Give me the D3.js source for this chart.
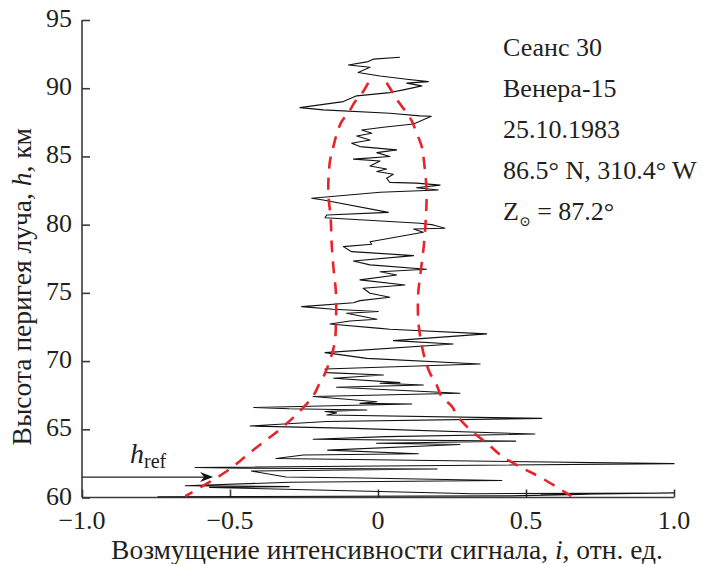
<!DOCTYPE html>
<html>
<head>
<meta charset="utf-8">
<script src="https://cdn.jsdelivr.net/npm/d3@7"></script>
<style>
  body { margin: 0; background: #fff; }
  .axis path, .axis line { stroke: #3a3a3a; stroke-width: 1.6; }
</style>
</head>
<body>
<svg id="chart"></svg>
<script>
// altitude of ray perigee, km (top -> bottom)
const heightKm = [
  92.27, 92.13, 91.95, 91.7, 91.54, 91.15, 90.9, 90.66, 90.48, 90.37, 90.17, 89.88, 89.68, 89.44,
  89.02, 88.58, 88.41, 88.17, 87.97, 87.95, 87.68, 87.38, 87.14, 86.94, 86.7, 86.5, 86.21, 85.97,
  85.72, 85.48, 85.28, 84.99, 84.8, 84.67, 84.3, 84.08, 83.89, 83.69, 83.4, 83.1, 83.04, 82.9,
  82.7, 82.54, 82.37, 81.93, 81.81, 80.9, 80.71, 80.51, 80.1, 79.98, 79.74, 79.68, 79.44, 78.75,
  78.56, 78.39, 78.02, 77.73, 77.34, 77.05, 76.73, 76.55, 76.31, 75.95, 75.58, 75.34, 74.97, 74.68,
  74.43, 74.28, 73.99, 73.8, 73.63, 73.5, 73.06, 72.94, 72.72, 72.4, 72.33, 71.99, 71.5, 71.25,
  70.62, 70.2, 69.79, 69.42, 69.15, 68.98, 68.74, 68.42, 68.37, 68.25, 68.08, 67.64, 67.4, 67.02,
  66.9, 66.85, 66.6, 66.5, 66.41, 66.3, 66.2, 66.05, 65.8, 65.57, 65.24, 65.07, 64.65, 64.46,
  64.27, 64.13, 63.98, 63.88, 63.47, 63.21, 63.12, 62.86, 62.48, 62.2, 62.15, 62.09, 61.94, 61.5,
  61.43, 61.25, 61.12, 60.86, 60.8, 60.74, 60.28, 60.33, 60.2, 60.25, 60.12, 60.05
]
// signal intensity perturbation, rel. units
const signal = [
  0.074, -0.016, -0.033, -0.10, -0.027, -0.067, 0.007, 0.097, 0.17, 0.097, 0.148, 0.086, 0.04, -0.072,
  -0.117, -0.264, -0.185, 0.04, 0.142, 0.18, 0.153, 0.12, 0.018, -0.055, -0.021, -0.072, -0.027, -0.089,
  -0.061, 0.063, -0.004, 0.04, -0.083, 0.007, -0.027, 0.029, -0.004, 0.052, 0.029, 0.04, 0.13, 0.21,
  0.13, 0.204, 0.007, -0.224, -0.185, 0.035, -0.173, -0.179, 0.142, 0.187, 0.226, 0.12, 0.153, -0.027,
  -0.021, -0.117, -0.089, 0.12, -0.083, -0.027, 0.164, 0.007, 0.063, -0.061, 0.091, -0.05, -0.027, 0.04,
  -0.061, -0.083, -0.258, -0.151, 0.001, -0.106, -0.004, -0.095, -0.162, 0.007, 0.04, 0.367, 0.052, 0.254,
  -0.179, -0.038, 0.345, -0.179, -0.173, 0.018, -0.15, 0.074, 0.007, 0.153, -0.14, 0.277, -0.219, -0.004,
  -0.061, 0.114, -0.42, -0.3, -0.038, -0.179, -0.14, -0.173, 0.553, -0.173, -0.432, -0.083, 0.53, 0.029,
  -0.219, 0.465, -0.005, 0.277, -0.17, 0.136, -0.252, -0.345, 1.0, -0.618, -0.45, 0.2, -0.428, -0.311,
  -0.052, 0.418, -0.299, -0.651, -0.3, -0.569, 0.324, 1.0, 0.55, 0.72, 0.45, -0.745
]

// dashed red envelope
const envLeftH = [90.4, 89.6, 89.0, 88.2, 87.55, 86.6, 85.7, 84.7, 82.4, 80.5, 78.4, 76.5, 75, 73, 71.4, 70.08, 69.1, 68.25, 67.44, 66.2, 64.95, 63.5, 61.94, 60.1]
const envLeftI = [-0.033, -0.055, -0.078, -0.1, -0.123, -0.14, -0.151, -0.162, -0.168, -0.16, -0.156, -0.149, -0.142, -0.142, -0.146, -0.162, -0.179, -0.2, -0.219, -0.27, -0.334, -0.42, -0.51, -0.651]
const envRightH = [90.4, 89.6, 89.0, 88.2, 87.6, 86.7, 85.7, 84.7, 82.5, 80.6, 78.5, 76.5, 75, 73, 71.5, 70.1, 69.1, 68.25, 67.4, 66.7, 65.9, 65.2, 64.65, 63.93, 63.04, 62.14, 61.5, 60.1]
const envRightI = [0.029, 0.052, 0.069, 0.097, 0.114, 0.131, 0.148, 0.155, 0.164, 0.162, 0.155, 0.144, 0.136, 0.136, 0.145, 0.159, 0.176, 0.198, 0.215, 0.249, 0.271, 0.30, 0.328, 0.371, 0.418, 0.489, 0.547, 0.653]

const hRef = 61.5
const hRefTip = -0.557

const yTicks = [60, 65, 70, 75, 80, 85, 90, 95]
const xTicks = [-1, -0.5, 0, 0.5, 1]
const xTickLabels = ['\u22121.0', '\u22120.5', '0', '0.5', '1.0']

const infoLines = ['Сеанс 30', 'Венера-15', '25.10.1983', '86.5° N, 310.4° W']
const zenithText = ['Z', '\u2299', ' = 87.2°']

const xTitle = ['Возмущение интенсивности сигнала, ', 'i', ', отн. ед.']
const yTitle = ['Высота перигея луча, ', 'h', ', км']

const serif = "'Liberation Serif', 'Times New Roman', Tinos, 'DejaVu Serif', serif"

class ProfilePlot {

    constructor(cfg) {
        this.config = {
            parentElement: cfg.parentElement,
            containerWidth: cfg.containerWidth || 705,
            containerHeight: cfg.containerHeight || 564,
            margin: cfg.margin || {top: 20, right: 31, bottom: 66.5, left: 82},
            fontSize: cfg.fontSize || 26,
            titleSize: cfg.titleSize || 27.5
        }
        this.initVis()
    }

    initVis() {
        let vis = this
        let c = vis.config

        vis.width = c.containerWidth - c.margin.left - c.margin.right
        vis.height = c.containerHeight - c.margin.top - c.margin.bottom

        vis.svgRoot = d3.select(c.parentElement)
            .attr('width', c.containerWidth)
            .attr('height', c.containerHeight)
            .attr('font-family', serif)
            .style('font-family', serif)

        vis.svg = vis.svgRoot.append('g')
            .attr('transform', `translate(${c.margin.left},${c.margin.top})`)

        vis.xScale = d3.scaleLinear().domain([-1, 1]).range([0, vis.width])
        vis.yScale = d3.scaleLinear().domain([60, 95]).range([vis.height, 0])

        // ticks point inward, like the paper figure
        vis.xAxis = d3.axisTop(vis.xScale).tickValues(xTicks).tickSize(8).tickFormat('')
        vis.yAxis = d3.axisRight(vis.yScale).tickValues(yTicks).tickSize(8).tickFormat('')

        vis.svg.append('g')
            .attr('class', 'axis x-axis')
            .attr('transform', `translate(0,${vis.height})`)
            .call(vis.xAxis)
            .call(g => g.select('.domain').attr('d', `M0,0H${vis.width}`))

        vis.svg.append('g')
            .attr('class', 'axis y-axis')
            .call(vis.yAxis)
            .call(g => g.select('.domain').attr('d', `M0,0V${vis.height}`))

        let txt = sel => sel.attr('font-family', serif).attr('fill', '#231f20')

        // tick labels
        vis.svg.append('g').selectAll('text')
            .data(xTicks)
            .join('text')
                .call(txt)
                .attr('x', d => vis.xScale(d))
                .attr('y', vis.height + 31)
                .attr('text-anchor', 'middle')
                .attr('font-size', c.fontSize)
                .text((d, i) => xTickLabels[i])

        vis.svg.append('g').selectAll('text')
            .data(yTicks)
            .join('text')
                .call(txt)
                .attr('x', -10)
                .attr('y', d => vis.yScale(d))
                .attr('dy', '0.27em')
                .attr('text-anchor', 'end')
                .attr('font-size', c.fontSize)
                .text(d => d)

        // axis titles
        let xt = vis.svg.append('text')
            .call(txt)
            .attr('x', vis.width / 2 + 9)
            .attr('y', vis.height + 61.5)
            .attr('text-anchor', 'middle')
            .attr('font-size', c.titleSize)
        xTitle.forEach((s, i) => xt.append('tspan').attr('font-style', i === 1 ? 'italic' : null).text(s))

        let yt = vis.svg.append('text')
            .call(txt)
            .attr('transform', `translate(${-c.margin.left + 31},${vis.height / 2 + 28}) rotate(-90)`)
            .attr('text-anchor', 'middle')
            .attr('font-size', c.titleSize)
        yTitle.forEach((s, i) => yt.append('tspan').attr('font-style', i === 1 ? 'italic' : null).text(s))

        // session info block
        let info = vis.svg.append('g').attr('transform', 'translate(421,0)')
        info.selectAll('text')
            .data(infoLines)
            .join('text')
                .call(txt)
                .attr('y', (d, i) => 36 + i * 41)
                .attr('font-size', c.fontSize)
                .text(d => d)

        let zt = info.append('text')
            .call(txt)
            .attr('y', 36 + 4 * 41)
            .attr('font-size', c.fontSize)
        zt.append('tspan').text(zenithText[0])
        zt.append('tspan').attr('font-size', 14).attr('dy', 6).text(zenithText[1])
        zt.append('tspan').attr('dy', -6).text(zenithText[2])

        vis.line = d3.line()
            .x(d => vis.xScale(d[0]))
            .y(d => vis.yScale(d[1]))

        vis.curve = d3.line()
            .x(d => vis.xScale(d[0]))
            .y(d => vis.yScale(d[1]))
            .curve(d3.curveCatmullRom)

        vis.renderVis()
    }

    renderVis() {
        let vis = this

        let trace = heightKm.map((h, i) => [signal[i], h])
        vis.svg.append('path')
            .datum(trace)
            .attr('fill', 'none')
            .attr('stroke', '#111')
            .attr('stroke-width', 1.1)
            .attr('stroke-linejoin', 'round')
            .attr('d', vis.line)

        let envs = [
            envLeftH.map((h, i) => [envLeftI[i], h]),
            envRightH.map((h, i) => [envRightI[i], h])
        ]
        vis.svg.selectAll('.env')
            .data(envs)
            .join('path')
                .attr('class', 'env')
                .attr('fill', 'none')
                .attr('stroke', '#e8242b')
                .attr('stroke-width', 2.6)
                .attr('stroke-dasharray', '12,9')
                .attr('d', vis.curve)

        // h_ref marker
        let yRef = vis.yScale(hRef)
        let xTip = vis.xScale(hRefTip)
        vis.svg.append('line')
            .attr('x1', 0).attr('x2', xTip - 4)
            .attr('y1', yRef).attr('y2', yRef)
            .attr('stroke', '#222')
            .attr('stroke-width', 1.2)
        vis.svg.append('path')
            .attr('d', `M${xTip},${yRef}L${xTip - 13},${yRef - 5}L${xTip - 9},${yRef}L${xTip - 13},${yRef + 5}Z`)
            .attr('fill', '#111')

        let lbl = vis.svg.append('text')
            .attr('font-family', serif)
            .attr('fill', '#231f20')
            .attr('x', 48)
            .attr('y', yRef - 14)
            .attr('font-size', 28)
        lbl.append('tspan').attr('font-style', 'italic').text('h')
        lbl.append('tspan').attr('font-size', 20).attr('dy', 5).text('ref')
    }
}

new ProfilePlot({parentElement: '#chart'})
</script>
</body>
</html>
